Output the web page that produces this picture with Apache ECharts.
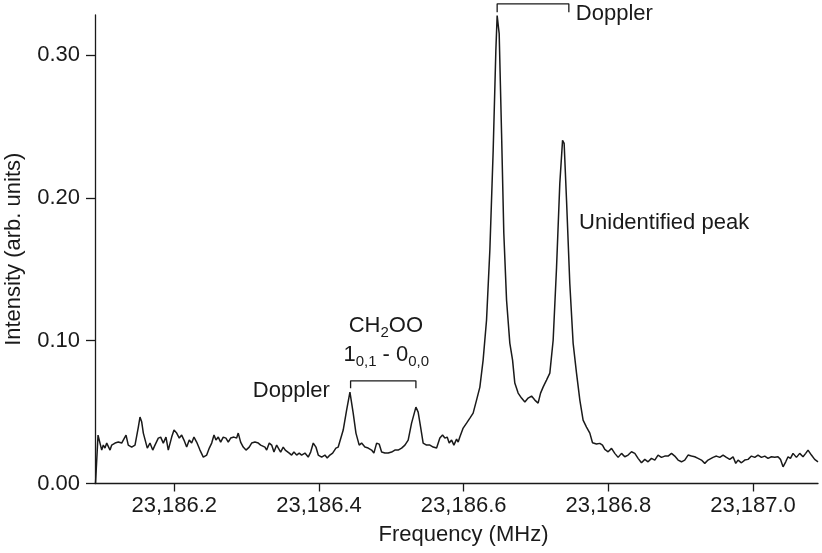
<!DOCTYPE html>
<html>
<head>
<meta charset="utf-8">
<script src="https://cdn.jsdelivr.net/npm/echarts@6/dist/echarts.min.js"></script>
<style>html,body{margin:0;padding:0;background:#fff;}#c{width:822px;height:553px;}</style>
</head>
<body>
<div id="c"></div>
<script>
// ---- data ----
const frequency = [
23186.0911,23186.0946,23186.0973,23186.0997,23186.1019,23186.1042,23186.1066,23186.1088,23186.1112,23186.1135,
23186.1181,23186.1226,23186.1273,23186.1295,23186.1333,23186.1364,23186.1411,23186.1457,23186.1503,23186.1526,
23186.1550,23186.1572,23186.1595,23186.1627,23186.1664,23186.1702,23186.1733,23186.1779,23186.1812,23186.1848,
23186.1885,23186.1917,23186.1964,23186.1996,23186.2033,23186.2069,23186.2102,23186.2134,23186.2171,23186.2207,
23186.2240,23186.2272,23186.2309,23186.2355,23186.2401,23186.2448,23186.2484,23186.2517,23186.2549,23186.2576,
23186.2608,23186.2641,23186.2677,23186.2714,23186.2746,23186.2779,23186.2825,23186.2862,23186.2884,23186.2917,
23186.2953,23186.2991,23186.3036,23186.3069,23186.3115,23186.3161,23186.3194,23186.3221,23186.3253,23186.3277,
23186.3313,23186.3346,23186.3378,23186.3415,23186.3437,23186.3470,23186.3506,23186.3534,23186.3561,23186.3589,
23186.3622,23186.3654,23186.3691,23186.3727,23186.3760,23186.3806,23186.3851,23186.3885,23186.3921,23186.3958,
23186.3990,23186.4037,23186.4082,23186.4114,23186.4151,23186.4189,23186.4234,23186.4266,23186.4289,23186.4335,
23186.4382,23186.4428,23186.4473,23186.4511,23186.4556,23186.4589,23186.4635,23186.4680,23186.4727,23186.4759,
23186.4797,23186.4832,23186.4866,23186.4911,23186.4957,23186.5004,23186.5049,23186.5095,23186.5142,23186.5188,
23186.5233,23186.5280,23186.5340,23186.5371,23186.5405,23186.5440,23186.5487,23186.5533,23186.5579,23186.5626,
23186.5671,23186.5708,23186.5740,23186.5772,23186.5800,23186.5833,23186.5865,23186.5902,23186.5924,23186.5947,
23186.5993,23186.6040,23186.6086,23186.6131,23186.6178,23186.6224,23186.6269,23186.6316,23186.6362,23186.6408,
23186.6445,23186.6463,23186.6491,23186.6524,23186.6555,23186.6593,23186.6638,23186.6676,23186.6707,23186.6753,
23186.6800,23186.6846,23186.6891,23186.6938,23186.6984,23186.7029,23186.7063,23186.7098,23186.7145,23186.7191,
23186.7237,23186.7284,23186.7329,23186.7367,23186.7389,23186.7422,23186.7467,23186.7513,23186.7560,23186.7606,
23186.7651,23186.7698,23186.7744,23186.7781,23186.7836,23186.7882,23186.7919,23186.7951,23186.7997,23186.8044,
23186.8089,23186.8135,23186.8182,23186.8227,23186.8273,23186.8320,23186.8366,23186.8411,23186.8458,23186.8504,
23186.8549,23186.8596,23186.8642,23186.8687,23186.8734,23186.8780,23186.8826,23186.8873,23186.8918,23186.8964,
23186.9011,23186.9056,23186.9102,23186.9149,23186.9194,23186.9240,23186.9287,23186.9333,23186.9378,23186.9402,
23186.9447,23186.9494,23186.9540,23186.9586,23186.9632,23186.9678,23186.9724,23186.9761,23186.9793,23186.9840,
23186.9885,23186.9931,23186.9978,23187.0024,23187.0069,23187.0116,23187.0162,23187.0207,23187.0254,23187.0300,
23187.0345,23187.0379,23187.0415,23187.0452,23187.0484,23187.0517,23187.0553,23187.0600,23187.0645,23187.0691,
23187.0728,23187.0760,23187.0807,23187.0852,23187.0898
];
const intensity = [
0.0000,0.0339,0.0283,0.0234,0.0269,0.0248,0.0283,0.0269,0.0234,0.0269,
0.0283,0.0290,0.0283,0.0304,0.0339,0.0269,0.0255,0.0269,0.0395,0.0465,
0.0430,0.0353,0.0339,0.0248,0.0283,0.0234,0.0269,0.0318,0.0325,0.0283,
0.0325,0.0234,0.0325,0.0374,0.0353,0.0318,0.0339,0.0304,0.0255,0.0304,
0.0283,0.0325,0.0290,0.0234,0.0185,0.0199,0.0248,0.0283,0.0339,0.0304,
0.0325,0.0290,0.0325,0.0318,0.0290,0.0318,0.0325,0.0318,0.0353,0.0290,
0.0255,0.0234,0.0255,0.0283,0.0290,0.0283,0.0269,0.0283,0.0255,0.0234,
0.0283,0.0269,0.0220,0.0269,0.0255,0.0220,0.0255,0.0234,0.0248,0.0213,
0.0199,0.0220,0.0199,0.0213,0.0199,0.0213,0.0185,0.0220,0.0283,0.0255,
0.0199,0.0185,0.0199,0.0178,0.0199,0.0213,0.0248,0.0255,0.0269,0.0374,
0.0514,0.0640,0.0493,0.0353,0.0269,0.0283,0.0255,0.0248,0.0234,0.0213,
0.0283,0.0276,0.0220,0.0213,0.0213,0.0220,0.0234,0.0234,0.0248,0.0269,
0.0304,0.0423,0.0535,0.0500,0.0395,0.0283,0.0269,0.0269,0.0255,0.0248,
0.0318,0.0339,0.0318,0.0325,0.0283,0.0304,0.0269,0.0311,0.0290,0.0325,
0.0388,0.0423,0.0458,0.0493,0.0584,0.0675,0.0864,0.1143,0.1633,0.2332,
0.3031,0.3276,0.3150,0.2451,0.1752,0.1283,0.0983,0.0864,0.0703,0.0633,
0.0598,0.0570,0.0598,0.0612,0.0584,0.0563,0.0633,0.0675,0.0724,0.0773,
0.1003,0.1514,0.2101,0.2402,0.2381,0.1983,0.1402,0.0983,0.0773,0.0584,
0.0444,0.0395,0.0353,0.0285,0.0276,0.0281,0.0269,0.0239,0.0222,0.0246,
0.0211,0.0183,0.0211,0.0187,0.0199,0.0222,0.0211,0.0176,0.0145,0.0169,
0.0152,0.0176,0.0164,0.0199,0.0183,0.0192,0.0192,0.0211,0.0192,0.0164,
0.0152,0.0164,0.0199,0.0192,0.0187,0.0176,0.0164,0.0141,0.0164,0.0169,
0.0183,0.0192,0.0183,0.0199,0.0183,0.0169,0.0187,0.0141,0.0164,0.0145,
0.0164,0.0169,0.0192,0.0183,0.0199,0.0183,0.0192,0.0176,0.0187,0.0183,
0.0187,0.0169,0.0117,0.0152,0.0187,0.0176,0.0211,0.0183,0.0211,0.0187,
0.0211,0.0234,0.0199,0.0169,0.0152
];
const xTickValues = [23186.2, 23186.4, 23186.6, 23186.8, 23187.0];
const yTickValues = [0.00, 0.10, 0.20, 0.30];
const xRange = [23186.0904, 23187.0898];
const yRange = [0, 0.328];

// bracket annotations: [freq start, freq end, bar level, tick end level]
const bracketTop = [23186.6463, 23186.7454, 0.3358, 0.3299];
const bracketLow = [23186.4437, 23186.5340, 0.0719, 0.0666];

// text annotations: anchor frequency / intensity
const annoText = ['Doppler', 'Unidentified peak', 'Doppler', 'CH2OO', 'transition'];
const annoFreq = [23186.7550, 23186.7596, 23186.4151, 23186.4925, 23186.4930];
const annoInt  = [0.3288, 0.1823, 0.0648, 0.1100, 0.0900];
const annoAlign = ['left', 'left', 'right', 'center', 'center'];

// ---- chart ----
const FONT = '"Liberation Sans", Arial, Helvetica, sans-serif';
const INK = '#1a1a1a';
const FS = 22;

function fmtFreq(v) {
  const s = v.toFixed(1);
  const parts = s.split('.');
  return parts[0].replace(/\B(?=(\d{3})+(?!\d))/g, ',') + '.' + parts[1];
}

const richStyles = {
  m: { fontSize: FS, fontFamily: FONT, color: INK, lineHeight: 28, opacity: 1 },
  s: { fontSize: 15, fontFamily: FONT, color: INK, lineHeight: 15, verticalAlign: 'bottom', opacity: 1 }
};
const richStrings = {
  'CH2OO': '{m|CH}{s|2}{m|OO}',
  'transition': '{m|1}{s|0,1}{m| - 0}{s|0,0}'
};

const traceData = frequency.map((f, i) => [f, intensity[i]]);
function bracketData(b) {
  return [[b[0], b[3]], [b[0], b[2]], [b[1], b[2]], [b[1], b[3]]];
}
const annoData = annoText.map((t, i) => ({
  value: [annoFreq[i], annoInt[i]],
  name: t,
  itemStyle: { color: INK, opacity: 1 },
  label: {
    show: true,
    position: 'inside',
    align: annoAlign[i],
    verticalAlign: 'middle',
    formatter: richStrings[t] || t,
    fontSize: FS, fontFamily: FONT, color: INK, opacity: 1,
    textBorderWidth: 0,
    rich: richStyles
  }
}));

const chart = echarts.init(document.getElementById('c'), null, { renderer: 'canvas' });
chart.setOption({
  animation: false,
  backgroundColor: '#ffffff',
  textStyle: { fontFamily: FONT },
  grid: { left: 95, right: 4, top: 15, bottom: 69.5, containLabel: false, outerBoundsMode: 'none' },
  xAxis: {
    type: 'value',
    min: xRange[0], max: xRange[1],
    name: 'Frequency (MHz)',
    nameLocation: 'middle',
    nameGap: 40,
    nameTextStyle: { fontSize: FS, color: INK, fontFamily: FONT, padding: [0, 0, 0, 14] },
    axisLine: { show: true, lineStyle: { color: INK, width: 1.3 } },
    axisTick: { show: true, length: 8, lineStyle: { color: INK, width: 1.3 }, customValues: xTickValues },
    axisLabel: { fontSize: FS, color: INK, fontFamily: FONT, margin: 11, customValues: xTickValues, formatter: fmtFreq },
    splitLine: { show: false }
  },
  yAxis: {
    type: 'value',
    min: yRange[0], max: yRange[1],
    name: 'Intensity (arb. units)',
    nameLocation: 'middle',
    nameGap: 70,
    nameTextStyle: { fontSize: FS, color: INK, fontFamily: FONT },
    axisLine: { show: true, lineStyle: { color: INK, width: 1.3 } },
    axisTick: { show: true, length: 9, lineStyle: { color: INK, width: 1.3 }, customValues: yTickValues },
    axisLabel: { fontSize: FS, color: INK, fontFamily: FONT, margin: 15, customValues: yTickValues, formatter: v => v.toFixed(2) },
    splitLine: { show: false }
  },
  series: [
    {
      type: 'line', data: traceData, showSymbol: false, symbol: 'none',
      lineStyle: { color: INK, width: 1.5 }, clip: false, z: 3
    },
    {
      type: 'line', data: bracketData(bracketTop), showSymbol: false, symbol: 'none',
      lineStyle: { color: INK, width: 1.3 }, clip: false
    },
    {
      type: 'line', data: bracketData(bracketLow), showSymbol: false, symbol: 'none',
      lineStyle: { color: INK, width: 1.3 }, clip: false
    },
    {
      type: 'scatter', data: annoData, symbolSize: 0.01, clip: false,
      silent: true, z: 5,
      labelLayout: { hideOverlap: false }
    }
  ]
});
</script>
</body>
</html>
